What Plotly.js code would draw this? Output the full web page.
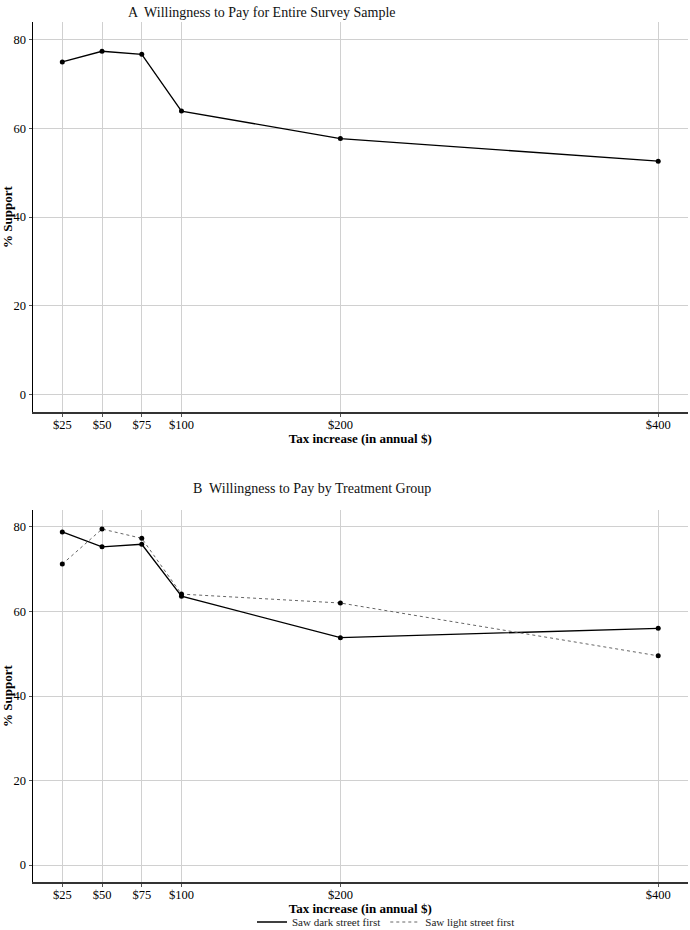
<!DOCTYPE html>
<html>
<head>
<meta charset="utf-8">
<script src="https://cdn.plot.ly/plotly-3.0.1.min.js"></script>
<style>html,body{margin:0;padding:0;background:#fff;}#chart{width:690px;height:930px;}</style>
</head>
<body>
<div id="chart"></div>
<script>
// Data
const taxAmounts = [25, 50, 75, 100, 200, 400];
const tickLabels = ["$25", "$50", "$75", "$100", "$200", "$400"];
const supportAll = [75.0, 77.4, 76.7, 63.9, 57.7, 52.6];
const supportDark = [78.8, 75.3, 75.9, 63.6, 53.8, 56.0];
const supportLight = [71.2, 79.5, 77.3, 64.1, 62.0, 49.5];
const seriesNames = ["Saw dark street first", "Saw light street first"];
const panelTitles = ["A  Willingness to Pay for Entire Survey Sample", "B  Willingness to Pay by Treatment Group"];
const yTicks = [0, 20, 40, 60, 80];

const serif = "'Liberation Serif', 'Times New Roman', serif";
const W = 690, H = 930, PW = 688;

const darkLine = {color: '#000', width: 1.3};
const lightLine = {color: '#666', width: 1, dash: 'dot'};

const traces = [
  {x: taxAmounts, y: supportAll, xaxis: 'x', yaxis: 'y', mode: 'lines+markers',
   line: darkLine, marker: {color: '#000', size: 5}, showlegend: false, name: 'All'},
  {x: taxAmounts, y: supportDark, xaxis: 'x2', yaxis: 'y2', mode: 'lines+markers', name: seriesNames[0],
   legendgroup: 'd', showlegend: false, line: darkLine, marker: {color: '#000', size: 5}},
  {x: taxAmounts, y: supportLight, xaxis: 'x2', yaxis: 'y2', mode: 'lines+markers', name: seriesNames[1],
   legendgroup: 'l', showlegend: false, line: lightLine, marker: {color: '#000', size: 5}},
  // legend keys (line only, as in the reference)
  {x: [null], y: [null], xaxis: 'x2', yaxis: 'y2', mode: 'lines', name: seriesNames[0], legendgroup: 'd', line: darkLine},
  {x: [null], y: [null], xaxis: 'x2', yaxis: 'y2', mode: 'lines', name: seriesNames[1], legendgroup: 'l', line: lightLine}
];

function xa(anchor) {
  return {
    anchor: anchor, domain: [32.5 / PW, 1],
    range: [6.25, 418.75], tickvals: taxAmounts, ticktext: tickLabels,
    showgrid: true, gridcolor: '#d0d0d0', gridwidth: 1, zeroline: false,
    showline: true, linecolor: '#333', linewidth: 1.5,
    ticks: 'outside', ticklen: 3, tickcolor: '#555', ticklabelstandoff: -3,
    tickfont: {family: serif, size: 12.5, color: '#000'},
    title: {text: '<b>Tax increase (in annual $)</b>', font: {family: serif, size: 13, color: '#000'}, standoff: 0}
  };
}
function ya(anchor, top, bottom) {
  return {
    anchor: anchor, domain: [1 - bottom / H, 1 - top / H],
    range: [-4, 84], tickvals: yTicks,
    showgrid: true, gridcolor: '#d0d0d0', gridwidth: 1, zeroline: false,
    showline: true, linecolor: '#000', linewidth: 1,
    ticks: 'outside', ticklen: 3, tickcolor: '#555',
    tickfont: {family: serif, size: 12.5, color: '#000'},
    title: {text: '<b>% Support</b>', font: {family: serif, size: 13, color: '#000'}, standoff: 4}
  };
}

const layout = {
  width: W, height: H,
  margin: {l: 0, r: 2, t: 0, b: 0, autoexpand: false},
  paper_bgcolor: '#fff', plot_bgcolor: '#fff',
  xaxis: xa('y'), yaxis: ya('x', 22, 412),
  xaxis2: xa('y2'), yaxis2: ya('x2', 510, 882),
  showlegend: true,
  legend: {orientation: 'h', x: 386 / PW, xanchor: 'center', y: 8 / H, yanchor: 'middle',
           font: {family: serif, size: 11, color: '#222'}, itemwidth: 30, tracegroupgap: 0,
           bgcolor: 'rgba(0,0,0,0)'},
  annotations: [
    {text: panelTitles[0], xref: 'paper', yref: 'paper', x: 261.5 / PW, y: 1 - 12 / H,
     xanchor: 'center', yanchor: 'middle', showarrow: false, font: {family: serif, size: 14, color: '#111'}},
    {text: panelTitles[1], xref: 'paper', yref: 'paper', x: 311.5 / PW, y: 1 - 489 / H,
     xanchor: 'center', yanchor: 'middle', showarrow: false, font: {family: serif, size: 14, color: '#111'}}
  ]
};

Plotly.newPlot('chart', traces, layout, {displayModeBar: false, staticPlot: true});
</script>
</body>
</html>
